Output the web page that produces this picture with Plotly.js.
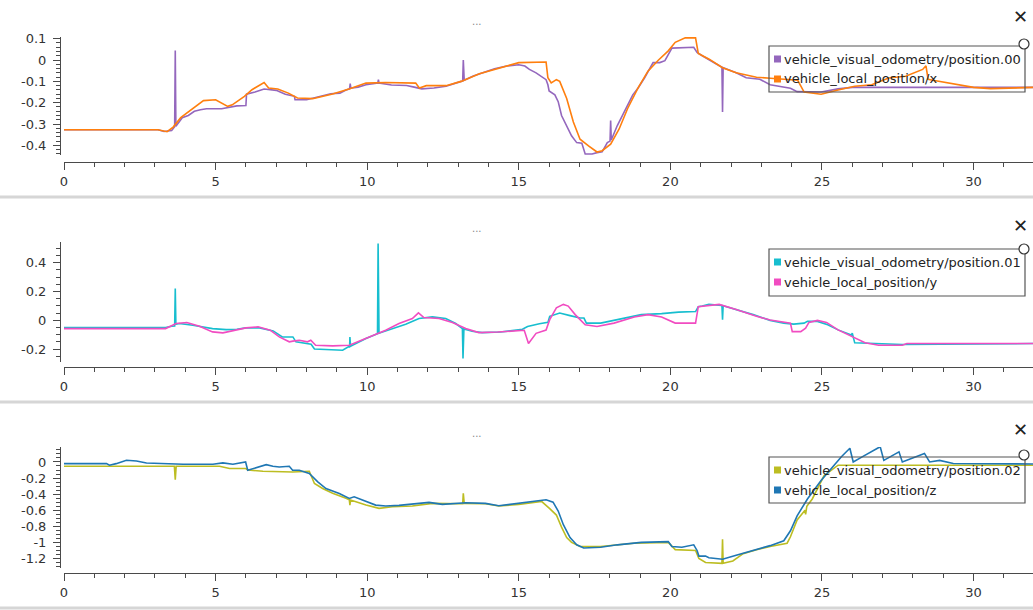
<!DOCTYPE html>
<html>
<head>
<meta charset="utf-8">
<script src="https://cdn.plot.ly/plotly-3.0.1.min.js"></script>
<style>html,body{margin:0;padding:0;background:#fff;}#chart{width:1033px;height:610px;}</style>
</head>
<body>
<div id="chart"></div>
<script>
// ---------------- DATA ----------------
const seriesNames = [
  "vehicle_visual_odometry/position.00", "vehicle_local_position/x",
  "vehicle_visual_odometry/position.01", "vehicle_local_position/y",
  "vehicle_visual_odometry/position.02", "vehicle_local_position/z"
];
const seriesColors = ["#9467bd", "#ff7f0e", "#17becf", "#f14cc1", "#bcbd22", "#1f77b4"];

// panel 1 : visual odometry x
const voX_t = [0,3.1,3.3,3.55,3.65,3.67,3.69,3.75,3.9,4.1,
  4.3,4.5,4.7,5.2,5.7,6.0,6.02,6.3,6.6,7.0,
  7.3,7.6,7.62,8.0,8.4,8.8,9.1,9.3,9.42,9.44,
  9.46,9.7,9.96,10.3,10.35,10.37,10.39,10.8,11.3,11.55,
  11.8,12.2,12.6,13.1,13.15,13.17,13.2,13.5,13.8,14.2,
  14.6,15.0,15.2,15.35,15.57,15.9,15.96,16.0,16.19,16.3,
  16.41,16.58,16.74,16.91,17.08,17.19,17.42,17.58,17.75,17.92,
  18.01,18.03,18.05,18.25,18.48,18.76,18.93,19.15,19.43,19.65,
  19.82,19.93,20.05,20.77,20.88,21.05,21.33,21.70,21.72,21.74,
  22.17,22.5,22.95,23.29,23.96,24.18,24.97,25.53,26.0,32];
const voX_v = [-0.327,-0.327,-0.335,-0.33,-0.312,0.045,-0.31,-0.30,-0.27,-0.26,
  -0.24,-0.233,-0.228,-0.228,-0.215,-0.213,-0.16,-0.15,-0.136,-0.142,
  -0.16,-0.17,-0.186,-0.186,-0.173,-0.158,-0.155,-0.14,-0.135,-0.11,
  -0.132,-0.127,-0.116,-0.108,-0.108,-0.092,-0.108,-0.117,-0.119,-0.127,
  -0.135,-0.131,-0.123,-0.1,-0.098,0.0,-0.095,-0.075,-0.061,-0.041,
  -0.028,-0.022,-0.028,-0.044,-0.06,-0.092,-0.116,-0.145,-0.163,-0.195,
  -0.26,-0.307,-0.355,-0.387,-0.39,-0.44,-0.44,-0.434,-0.43,-0.387,
  -0.38,-0.283,-0.375,-0.307,-0.243,-0.163,-0.132,-0.083,-0.012,-0.012,
  -0.003,0.028,0.056,0.06,0.036,0.02,-0.004,-0.034,-0.243,-0.036,
  -0.06,-0.083,-0.09,-0.116,-0.132,-0.148,-0.15,-0.135,-0.128,-0.128];

// panel 1 : local position x
const lpX_t = [0,3.1,3.4,3.6,3.85,4.2,4.6,5.0,5.4,5.55,
  5.95,6.2,6.6,6.75,7.05,7.4,7.7,8.2,8.86,9.4,
  9.96,10.6,11.6,11.72,11.95,12.6,13.1,13.7,14.35,15.0,
  15.9,15.96,16.07,16.24,16.35,16.58,16.8,17.02,17.3,17.58,
  17.75,18.03,18.31,18.59,18.93,19.26,19.6,19.93,20.16,20.49,
  20.83,20.92,21.28,21.72,22.17,22.84,23.3,23.96,24.2,24.41,
  24.97,25.53,26.08,26.64,27.2,27.76,28.32,28.43,28.5,28.66,
  29.44,30.0,30.56,32];
const lpX_v = [-0.327,-0.327,-0.336,-0.314,-0.27,-0.233,-0.19,-0.186,-0.217,-0.21,
  -0.17,-0.139,-0.105,-0.131,-0.136,-0.155,-0.178,-0.181,-0.159,-0.136,
  -0.108,-0.105,-0.108,-0.131,-0.12,-0.12,-0.1,-0.064,-0.0375,-0.012,
  -0.009,-0.083,-0.107,-0.092,-0.1,-0.18,-0.29,-0.371,-0.402,-0.431,
  -0.425,-0.394,-0.323,-0.227,-0.132,-0.052,-0.001,0.043,0.083,0.104,
  0.104,0.031,0.004,-0.036,-0.06,-0.081,-0.085,-0.09,-0.095,-0.15,
  -0.16,-0.14,-0.123,-0.116,-0.084,-0.076,-0.044,-0.027,-0.09,-0.095,
  -0.113,-0.128,-0.134,-0.128];

// panel 2 : visual odometry y
const voY_t = [0,3.35,3.55,3.65,3.67,3.69,3.8,4.25,4.9,5.35,
  5.7,6.0,6.45,6.9,7.2,7.55,7.65,8.15,8.26,9.19,
  9.38,9.42,9.43,9.45,9.63,9.96,10.34,10.36,10.39,10.83,
  11.27,11.71,12.15,12.59,12.92,13.14,13.16,13.19,13.46,13.79,
  14.4,15.12,15.29,15.68,15.96,16.02,16.35,16.69,17.02,17.15,
  17.23,17.7,18.25,19.04,19.71,20.27,20.83,20.92,21.05,21.27,
  21.70,21.72,21.74,22.17,22.73,23.29,23.74,24.07,24.41,24.52,
  24.85,25.19,25.53,25.97,26.0,26.08,26.76,27.65,32];
const voY_v = [-0.051,-0.051,-0.042,-0.04,0.22,-0.028,-0.023,-0.035,-0.058,-0.065,
  -0.063,-0.053,-0.053,-0.074,-0.116,-0.116,-0.15,-0.167,-0.2,-0.208,
  -0.185,-0.185,-0.116,-0.18,-0.162,-0.127,-0.093,0.532,-0.09,-0.058,
  -0.028,0.012,0.023,0.012,-0.023,-0.058,-0.266,-0.06,-0.076,-0.086,
  -0.082,-0.063,-0.044,-0.025,-0.015,0.027,0.05,0.032,0.015,0.015,
  -0.02,-0.02,0.004,0.039,0.046,0.056,0.06,0.094,0.099,0.11,
  0.103,0.004,0.1,0.075,0.039,-0.001,-0.02,-0.027,-0.02,-0.008,
  -0.008,-0.032,-0.067,-0.102,-0.09,-0.157,-0.162,-0.169,-0.162];

// panel 2 : local position y
const lpY_t = [0,3.35,3.7,4.05,4.47,4.9,5.24,5.6,6.0,6.4,
  6.8,7.1,7.43,7.55,7.76,8.03,8.14,8.3,8.86,9.41,
  9.96,10.61,11.05,11.49,11.69,11.87,12.37,12.81,13.25,13.68,
  14.3,15.18,15.32,15.57,15.9,16.02,16.24,16.47,16.63,16.86,
  17.19,17.58,18.14,18.81,19.26,19.71,20.16,20.83,20.92,21.27,
  21.61,22.17,22.84,23.29,23.96,24.02,24.3,24.46,24.57,24.85,
  25.15,25.53,26.08,26.42,26.87,27.65,27.8,32];
const lpY_v = [-0.058,-0.058,-0.023,-0.016,-0.042,-0.081,-0.088,-0.069,-0.053,-0.046,
  -0.069,-0.116,-0.15,-0.145,-0.139,-0.15,-0.139,-0.174,-0.178,-0.174,
  -0.127,-0.069,-0.023,0.012,0.051,0.019,0.012,-0.016,-0.058,-0.086,
  -0.082,-0.07,-0.162,-0.091,-0.068,0.004,0.086,0.11,0.098,0.039,
  -0.032,-0.044,-0.02,0.022,0.039,0.022,-0.02,-0.02,0.094,0.103,
  0.11,0.075,0.027,0.002,-0.02,-0.079,-0.079,-0.055,-0.015,-0.001,
  -0.015,-0.067,-0.126,-0.157,-0.174,-0.174,-0.162,-0.162];

// panel 3 : visual odometry z
const voZ_t = [0,3.64,3.67,3.70,5.13,5.46,6.0,6.06,6.56,7.54,
  8.09,8.26,8.53,8.86,9.3,9.41,9.43,9.45,9.96,10.39,
  10.83,11.49,12.15,13.03,13.15,13.17,13.2,13.9,14.34,15.0,
  15.45,15.75,16.02,16.24,16.41,16.58,16.74,17.02,17.7,18.8,
  19.93,20.16,20.83,20.94,21.16,21.70,21.72,21.74,22.06,22.4,
  22.84,23.29,23.85,23.96,24.18,24.44,24.46,24.5,24.68,24.85,
  25.07,25.53,32];
const voZ_v = [-0.054,-0.054,-0.22,-0.054,-0.054,-0.082,-0.082,-0.1,-0.115,-0.124,
  -0.115,-0.268,-0.33,-0.39,-0.45,-0.47,-0.536,-0.474,-0.536,-0.577,
  -0.557,-0.548,-0.515,-0.527,-0.52,-0.39,-0.515,-0.52,-0.548,-0.528,
  -0.5,-0.49,-0.58,-0.66,-0.81,-0.94,-1.0,-1.05,-1.05,-1.01,
  -1.0,-1.09,-1.1,-1.2,-1.25,-1.26,-0.96,-1.26,-1.23,-1.14,
  -1.09,-1.05,-1.01,-0.93,-0.72,-0.6,-0.65,-0.55,-0.46,-0.34,
  -0.17,-0.04,-0.04];

// panel 3 : local position z
const lpZ_t = [0,1.4,1.5,1.72,2.06,2.39,2.72,3.38,3.93,4.91,
  5.24,5.57,5.99,6.06,6.34,6.67,6.89,7.1,7.43,7.54,
  7.76,8.09,8.37,8.64,9.08,9.41,9.57,9.96,10.28,10.61,
  11.05,12.04,12.48,13.25,13.9,14.34,15.0,15.45,15.9,16.13,
  16.3,16.47,16.69,16.91,17.14,17.7,18.25,19.04,19.93,20.05,
  20.38,20.77,20.88,20.94,21.16,21.27,21.72,22.17,22.73,23.29,
  23.74,23.96,24.18,24.52,24.97,25.41,25.64,25.92,26.03,26.31,
  26.92,27.04,27.54,27.65,28.38,28.55,28.88,29.33,32];
const lpZ_v = [-0.021,-0.021,-0.041,-0.021,0.021,0.012,-0.012,-0.021,-0.029,-0.029,
  -0.012,-0.029,0.0,-0.103,-0.074,-0.033,-0.054,-0.062,-0.054,-0.103,
  -0.103,-0.144,-0.247,-0.33,-0.392,-0.454,-0.433,-0.495,-0.536,-0.548,
  -0.54,-0.503,-0.527,-0.507,-0.515,-0.545,-0.51,-0.495,-0.47,-0.5,
  -0.61,-0.78,-0.94,-1.03,-1.07,-1.06,-1.03,-1.0,-0.99,-1.05,
  -1.06,-1.03,-1.1,-1.17,-1.17,-1.19,-1.21,-1.16,-1.1,-1.04,
  -0.98,-0.855,-0.67,-0.46,-0.23,-0.04,0.065,0.17,0.0,0.06,
  0.19,0.02,0.126,0.0,0.106,0.0,0.02,-0.02,-0.025];

// tick labels
const xTickVals = [0,5,10,15,20,25,30];
const xTickText = ["0","5","10","15","20","25","30"];
const y1TickVals = [0.1,0,-0.1,-0.2,-0.3,-0.4];
const y1TickText = ["0.1","0","-0.1","-0.2","-0.3","-0.4"];
const y2TickVals = [0.4,0.2,0,-0.2];
const y2TickText = ["0.4","0.2","0","-0.2"];
const y3TickVals = [0,-0.2,-0.4,-0.6,-0.8,-1,-1.2];
const y3TickText = ["0","-0.2","-0.4","-0.6","-0.8","-1","-1.2"];
const panelTitles = ["...", "...", "..."];

// ---------------- LAYOUT ----------------
const W = 1033, H = 610;
const FONT = "DejaVu Sans, Verdana, sans-serif";
const px = v => v / W;
const py = v => 1 - v / H;

const series = [
  [voX_t, voX_v, 0], [lpX_t, lpX_v, 0],
  [voY_t, voY_v, 1], [lpY_t, lpY_v, 1],
  [voZ_t, voZ_v, 2], [lpZ_t, lpZ_v, 2]
];
const axSuffix = ["", "2", "3"];
const traces = series.map((s, i) => ({
  type: "scatter", mode: "lines",
  x: s[0], y: s[1], name: seriesNames[i],
  xaxis: "x" + axSuffix[s[2]], yaxis: "y" + axSuffix[s[2]],
  line: {color: seriesColors[i], width: 1.6},
  showlegend: false, hoverinfo: "x+y+name"
}));

// panel geometry (pixels)
const panels = [
  {yTop: 37, yBot: 155, xLine: 162, yRange: [-0.445, 0.108], tv: y1TickVals, tt: y1TickText, minor: 0.02,
   title: 22, close: 16, circ: 44, legTop: 46, legBot: 92},
  {yTop: 242, yBot: 362, xLine: 367, yRange: [-0.29, 0.543], tv: y2TickVals, tt: y2TickText, minor: 0.05,
   title: 228, close: 225, circ: 249, legTop: 249, legBot: 296},
  {yTop: 447, yBot: 568, xLine: 573, yRange: [-1.318, 0.186], tv: y3TickVals, tt: y3TickText, minor: 0.05,
   title: 433, close: 429, circ: 455, legTop: 457, legBot: 503}
];

const axColor = "#4a4a4a";
const tickFont = {family: FONT, size: 13, color: "#333"};
const layout = {
  width: W, height: H,
  margin: {l: 0, r: 0, t: 0, b: 0},
  paper_bgcolor: "#fff", plot_bgcolor: "rgba(0,0,0,0)",
  showlegend: false,
  shapes: [], annotations: []
};

panels.forEach((p, k) => {
  const xa = "xaxis" + axSuffix[k], ya = "yaxis" + axSuffix[k];
  layout[xa] = {
    domain: [px(64), 1], range: [0, 31.96],
    anchor: "free", position: py(p.xLine),
    showline: true, linecolor: axColor, linewidth: 1,
    ticks: "outside", ticklen: 7, tickwidth: 1, tickcolor: axColor,
    tickmode: "array", tickvals: xTickVals, ticktext: xTickText,
    minor: {tickmode: "linear", tick0: 0, dtick: 1, ticks: "outside", ticklen: 4, tickcolor: axColor, showgrid: false},
    showgrid: false, zeroline: false, tickfont: tickFont, fixedrange: true
  };
  layout[ya] = {
    domain: [py(p.yBot), py(p.yTop)], range: p.yRange,
    anchor: "free", position: px(60),
    showline: true, linecolor: axColor, linewidth: 1,
    ticks: "outside", ticklen: 7, tickwidth: 1, tickcolor: axColor,
    ticklabelstandoff: 4,
    tickmode: "array", tickvals: p.tv, ticktext: p.tt,
    minor: {tickmode: "linear", tick0: 0, dtick: p.minor, ticks: "outside", ticklen: 4, tickcolor: axColor, showgrid: false},
    showgrid: false, zeroline: false, tickfont: tickFont, fixedrange: true
  };
  if (k > 0) layout[xa].matches = "x";

  // panel title "..."
  layout.annotations.push({xref: "paper", yref: "paper", x: px(477), y: py(p.title),
    text: panelTitles[k], showarrow: false, font: {family: FONT, size: 10, color: "#888"}, xanchor: "center", yanchor: "middle"});
  // close cross
  layout.annotations.push({xref: "paper", yref: "paper", x: px(1020), y: py(p.close),
    text: "\u2715", showarrow: false, font: {family: FONT, size: 18, color: "#222"}, xanchor: "center", yanchor: "middle"});

  // legend box
  layout.shapes.push({type: "rect", xref: "paper", yref: "paper", layer: "above",
    x0: px(769), x1: px(1025), y0: py(p.legBot), y1: py(p.legTop),
    line: {color: "#555", width: 1.2}, fillcolor: "rgba(255,255,255,0)"});
  // legend resize handle circle
  layout.shapes.push({type: "circle", xref: "paper", yref: "paper", layer: "above",
    x0: px(1019), x1: px(1029), y0: py(p.circ + 5), y1: py(p.circ - 5),
    line: {color: "#333", width: 1.2}, fillcolor: "#fff"});
  // legend entries
  [0, 1].forEach(j => {
    const idx = 2 * k + j;
    const cy = p.legTop + 13 + 20 * j;
    layout.shapes.push({type: "rect", xref: "paper", yref: "paper", layer: "above",
      x0: px(774), x1: px(781), y0: py(cy + 3.5), y1: py(cy - 3.5),
      line: {width: 0}, fillcolor: seriesColors[idx]});
    layout.annotations.push({xref: "paper", yref: "paper", x: px(782), y: py(cy),
      text: seriesNames[idx], showarrow: false, xanchor: "left", yanchor: "middle",
      font: {family: FONT, size: 13, color: "#222"}});
  });
});

// panel separators
[197, 402, 608].forEach(y => {
  layout.shapes.push({type: "line", xref: "paper", yref: "paper", layer: "below",
    x0: 0, x1: 1, y0: py(y), y1: py(y), line: {color: "#d6d6d6", width: 3}});
});

Plotly.newPlot("chart", traces, layout, {displayModeBar: false, staticPlot: true});
</script>
</body>
</html>
